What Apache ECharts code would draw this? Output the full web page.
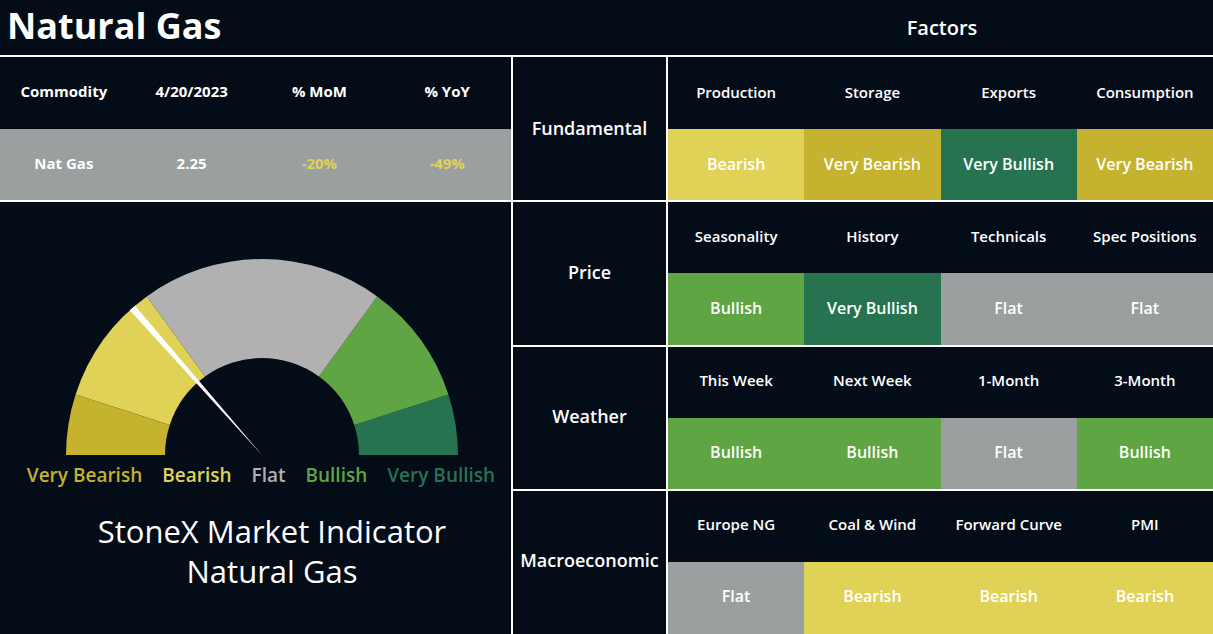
<!DOCTYPE html>
<html>
<head>
<meta charset="utf-8">
<script src="https://cdn.jsdelivr.net/npm/echarts/dist/echarts.min.js"></script>
<style>
html,body{margin:0;padding:0;background:#040c18;}
#chart{width:1213px;height:634px;}
</style>
</head>
<body>
<div id="chart"></div>
<script>
// ---------- data ----------
const pageTitle = 'Natural Gas';
const factorsTitle = 'Factors';
const tableHeader = ['Commodity', '4/20/2023', '% MoM', '% YoY'];
const tableValues = ['Nat Gas', '2.25', '-20%', '-49%'];
const sections = ['Fundamental', 'Price', 'Weather', 'Macroeconomic'];
const factorNames = [
  ['Production', 'Storage', 'Exports', 'Consumption'],
  ['Seasonality', 'History', 'Technicals', 'Spec Positions'],
  ['This Week', 'Next Week', '1-Month', '3-Month'],
  ['Europe NG', 'Coal & Wind', 'Forward Curve', 'PMI']
];
const factorRatings = [
  ['Bearish', 'Very Bearish', 'Very Bullish', 'Very Bearish'],
  ['Bullish', 'Very Bullish', 'Flat', 'Flat'],
  ['Bullish', 'Bullish', 'Flat', 'Bullish'],
  ['Flat', 'Bearish', 'Bearish', 'Bearish']
];
const levels = ['Very Bearish', 'Bearish', 'Flat', 'Bullish', 'Very Bullish'];
const gaugeBands = [10, 20, 40, 20, 10];
const gaugeValue = 27;
const indicatorLines = ['StoneX Market Indicator', 'Natural Gas'];

// ---------- styles ----------
const BG = '#040c18';
const WHITE = '#ffffff';
const cellColors = { 'Very Bearish': '#c5b22f', 'Bearish': '#e0d256', 'Flat': '#9aa09f', 'Bullish': '#5fa544', 'Very Bullish': '#277350' };
const gaugeColors = { 'Very Bearish': '#c5b22f', 'Bearish': '#e0d256', 'Flat': '#b1b1b1', 'Bullish': '#5fa544', 'Very Bullish': '#277350' };
const TABLE_ROW_BG = '#9aa09f';
const NEG_COLOR = '#e0d256';
const FONT = "'Open Sans', 'Noto Sans', sans-serif";
const TEXT_DY = -1.5;

const W = 1213, H = 634, TOP = 57, LEFT_W = 511, SEC_X = 513, SEC_W = 153, FAC_X = 668;

// ---------- cells ----------
const tableCells = [];
tableHeader.forEach((t, c) => tableCells.push({ x: c, y: 0, text: t, fill: BG, color: WHITE, size: 15, weight: 'bold' }));
tableValues.forEach((t, c) => tableCells.push({ x: c, y: 1, text: t, fill: TABLE_ROW_BG, color: t.startsWith('-') ? NEG_COLOR : WHITE, size: 15, weight: 'bold' }));

const sectionCells = sections.map((s, k) => ({ x: 0, y: k, text: s, fill: BG, color: WHITE, size: 18, weight: 600 }));

const factorCells = [];
sections.forEach((s, k) => {
  factorNames[k].forEach((n, c) => factorCells.push({ x: c, y: 2 * k, text: n, fill: BG, color: WHITE, size: 15, weight: 600 }));
  factorRatings[k].forEach((r, c) => factorCells.push({ x: c, y: 2 * k + 1, text: r, fill: cellColors[r], color: WHITE, size: 16, weight: 600 }));
});

function cellRenderer(cells) {
  return function (params, api) {
    const d = cells[params.dataIndex];
    const c = api.coord([api.value(0), api.value(1)]);
    const s = api.size([1, 1]);
    const x0 = Math.round(c[0] - s[0] / 2), x1 = Math.round(c[0] + s[0] / 2);
    const y0 = Math.round(c[1] - s[1] / 2), y1 = Math.round(c[1] + s[1] / 2);
    return {
      type: 'group',
      children: [
        { type: 'rect', shape: { x: x0, y: y0, width: x1 - x0, height: y1 - y0 }, style: { fill: d.fill } },
        { type: 'text', style: { x: c[0], y: c[1] + TEXT_DY, text: d.text, fill: d.color, fontSize: d.size, fontWeight: d.weight, fontFamily: FONT, align: 'center', verticalAlign: 'middle' } }
      ]
    };
  };
}

// gauge colour stops
let acc = 0;
const total = gaugeBands.reduce((a, b) => a + b, 0);
const gaugeStops = levels.map((l, i) => { acc += gaugeBands[i]; return [acc / total, gaugeColors[l]]; });

const rich = {};
levels.forEach((l, i) => { rich['l' + i] = { color: gaugeColors[l], fontSize: 19, fontWeight: 600, fontFamily: FONT, padding: [0, 10] }; });

// frame lines
const lines = [
  [0, TOP - 2, W, 2],
  [LEFT_W, TOP, 2, H - TOP],
  [SEC_X + SEC_W, TOP, 2, H - TOP],
  [0, 200, LEFT_W, 2]
];
for (let k = 1; k < 4; k++) lines.push([SEC_X, Math.round(TOP + k * (H - TOP) / 4 - 1), W - SEC_X, 2]);

const chart = echarts.init(document.getElementById('chart'), null, { renderer: 'svg' });
chart.setOption({
  backgroundColor: BG,
  animation: false,
  title: [
    { text: pageTitle, left: 7, top: 7, padding: 0, textStyle: { color: WHITE, fontSize: 36, fontWeight: 'bold', fontFamily: FONT } },
    { text: factorsTitle, left: 942, top: 17, padding: 0, textAlign: 'center', textStyle: { color: WHITE, fontSize: 20, fontWeight: 600, fontFamily: FONT } },
    { text: levels.map((l, i) => '{l' + i + '|' + l + '}').join(''), left: 261, top: 465, padding: 0, textAlign: 'center', textStyle: { rich: rich, fontFamily: FONT } },
    { text: indicatorLines.join('\n'), left: 272, top: 511, padding: 0, textAlign: 'center', textStyle: { color: WHITE, fontSize: 31, fontWeight: 'normal', lineHeight: 40, fontFamily: FONT } }
  ],
  grid: [
    { left: 0, top: TOP, width: LEFT_W, height: 143 },
    { left: SEC_X, top: TOP, width: SEC_W, bottom: 0 },
    { left: FAC_X, top: TOP, right: 0, bottom: 0 }
  ],
  xAxis: [
    { gridIndex: 0, type: 'category', data: tableHeader, show: false },
    { gridIndex: 1, type: 'category', data: ['section'], show: false },
    { gridIndex: 2, type: 'category', data: [0, 1, 2, 3], show: false }
  ],
  yAxis: [
    { gridIndex: 0, type: 'category', data: ['header', 'values'], inverse: true, show: false },
    { gridIndex: 1, type: 'category', data: sections, inverse: true, show: false },
    { gridIndex: 2, type: 'category', data: [0, 1, 2, 3, 4, 5, 6, 7], inverse: true, show: false }
  ],
  graphic: lines.map(l => ({ type: 'rect', z: 100, silent: true, shape: { x: l[0], y: l[1], width: l[2], height: l[3] }, style: { fill: WHITE } })),
  series: [
    { type: 'custom', xAxisIndex: 0, yAxisIndex: 0, renderItem: cellRenderer(tableCells), data: tableCells.map(d => [d.x, d.y]) },
    { type: 'custom', xAxisIndex: 1, yAxisIndex: 1, renderItem: cellRenderer(sectionCells), data: sectionCells.map(d => [d.x, d.y]) },
    { type: 'custom', xAxisIndex: 2, yAxisIndex: 2, renderItem: cellRenderer(factorCells), data: factorCells.map(d => [d.x, d.y]) },
    {
      type: 'gauge', center: [262, 455], radius: 196, startAngle: 180, endAngle: 0, min: 0, max: 100,
      axisLine: { lineStyle: { width: 99, color: gaugeStops } },
      splitLine: { show: false }, axisTick: { show: false }, axisLabel: { show: false },
      pointer: { icon: 'path://M0,0 L10,0 L5,100 Z', length: '100%', width: 7, itemStyle: { color: WHITE } },
      anchor: { show: false }, title: { show: false }, detail: { show: false },
      data: [{ value: gaugeValue }]
    }
  ]
});
</script>
</body>
</html>
